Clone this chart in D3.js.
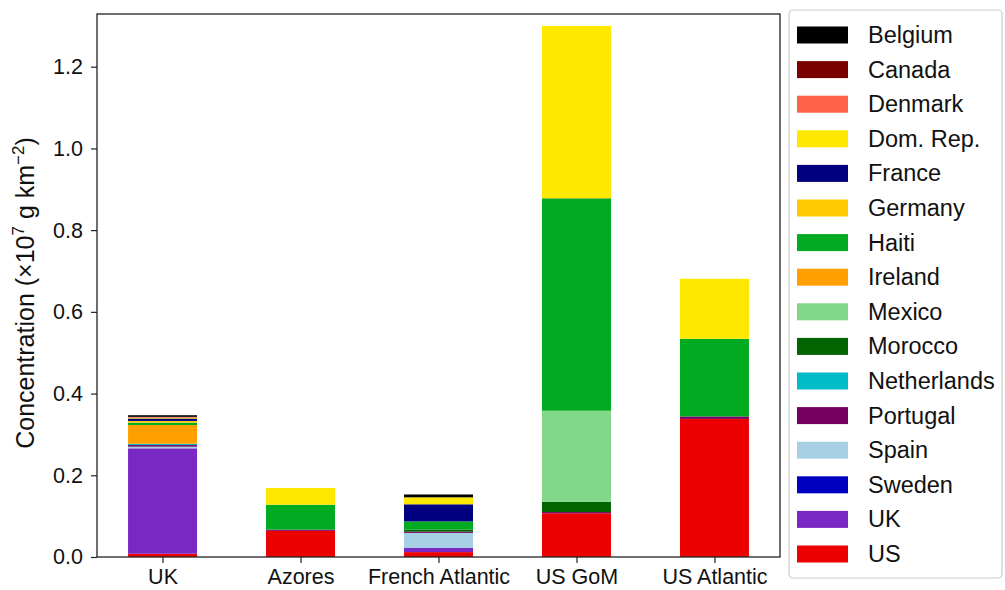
<!DOCTYPE html>
<html>
<head>
<meta charset="utf-8">
<script src="https://cdn.jsdelivr.net/npm/d3@7"></script>
<style>
  body { margin: 0; background: #fff; }
  svg { font-family: "Liberation Sans", Arial, sans-serif; }
</style>
</head>
<body>
<div id="chart"></div>
<script>
// sites on the x axis
var sites = ["UK", "Azores", "French Atlantic", "US GoM", "US Atlantic"];

// source countries, in legend order
var countries = ["Belgium", "Canada", "Denmark", "Dom. Rep.", "France", "Germany", "Haiti",
  "Ireland", "Mexico", "Morocco", "Netherlands", "Portugal", "Spain", "Sweden", "UK", "US"];

var colors = ["#000000", "#7a0000", "#ff6347", "#ffe800", "#000080", "#ffc800", "#00ab22",
  "#ffa000", "#80d888", "#006400", "#00bcc8", "#750060", "#a8d0e4", "#0000c0", "#7a28c4", "#ec0000"];

// values per country, one per site (x10^7 g km^-2)
var belgium     = [0.004, 0.000, 0.007, 0.000, 0.000];
var canada      = [0.000, 0.000, 0.000, 0.000, 0.000];
var denmark     = [0.002, 0.000, 0.000, 0.000, 0.000];
var domRep      = [0.002, 0.041, 0.017, 0.422, 0.147];
var france      = [0.006, 0.000, 0.042, 0.000, 0.000];
var germany     = [0.004, 0.000, 0.000, 0.000, 0.000];
var haiti       = [0.006, 0.061, 0.020, 0.520, 0.190];
var ireland     = [0.046, 0.000, 0.000, 0.000, 0.000];
var mexico      = [0.000, 0.000, 0.000, 0.223, 0.000];
var morocco     = [0.000, 0.000, 0.005, 0.025, 0.000];
var netherlands = [0.003, 0.000, 0.000, 0.000, 0.000];
var portugal    = [0.004, 0.003, 0.003, 0.003, 0.006];
var spain       = [0.004, 0.000, 0.037, 0.000, 0.000];
var sweden      = [0.000, 0.000, 0.000, 0.000, 0.000];
var uk          = [0.258, 0.000, 0.010, 0.000, 0.000];
var us          = [0.008, 0.064, 0.012, 0.107, 0.338];

var seriesValues = [belgium, canada, denmark, domRep, france, germany, haiti, ireland,
  mexico, morocco, netherlands, portugal, spain, sweden, uk, us];

var yTicks = [0.0, 0.2, 0.4, 0.6, 0.8, 1.0, 1.2];

var W = 1005, H = 590;
var m = {left: 97, right: 225, top: 14, bottom: 33};
var plotW = W - m.left - m.right, plotH = H - m.top - m.bottom;

var svg = d3.select("#chart").append("svg")
  .attr("width", W).attr("height", H);

// table: one row per site; stack from the last country (US) at the bottom
var table = sites.map(function (s, i) {
  var row = {site: s, idx: i};
  countries.forEach(function (c, k) { row[c] = seriesValues[k][i]; });
  return row;
});
var stackOrder = countries.slice().reverse();
var stacked = d3.stack().keys(stackOrder)(table);

var x = d3.scaleLinear().domain([-0.475, 4.475]).range([m.left, m.left + plotW]);
var y = d3.scaleLinear().domain([0, 1.329]).range([m.top + plotH, m.top]);
var barW = 0.5;

var color = d3.scaleOrdinal().domain(countries).range(colors);

// bars
svg.selectAll("g.layer")
  .data(stacked)
  .enter().append("g")
  .attr("class", "layer")
  .attr("fill", function (d) { return color(d.key); })
  .selectAll("rect")
  .data(function (d) { return d; })
  .enter().append("rect")
  .attr("x", function (d) { return x(d.data.idx - barW / 2); })
  .attr("width", function (d) { return x(barW) - x(0); })
  .attr("y", function (d) { return y(d[1]); })
  .attr("height", function (d) { return y(d[0]) - y(d[1]); });

// axes
var yAxis = d3.axisLeft(y).tickValues(yTicks).tickFormat(d3.format(".1f")).tickSize(6).tickPadding(8);
var gy = svg.append("g").attr("transform", "translate(" + m.left + ",0)").call(yAxis);
var xAxis = d3.axisBottom(x).tickValues(d3.range(sites.length))
  .tickFormat(function (i) { return sites[i]; }).tickSize(6).tickPadding(6);
var gx = svg.append("g").attr("transform", "translate(0," + (m.top + plotH) + ")").call(xAxis);

[gx, gy].forEach(function (g) {
  g.select(".domain").remove();
  g.selectAll("line").attr("stroke", "#222").attr("stroke-width", 1.2);
  g.selectAll("text").attr("fill", "#111");
});
gy.selectAll("text").attr("font-size", 21.5);
gx.selectAll("text").attr("font-size", 21.5);

// frame
svg.append("rect")
  .attr("x", m.left).attr("y", m.top).attr("width", plotW).attr("height", plotH)
  .attr("fill", "none").attr("stroke", "#222").attr("stroke-width", 1.3);

// y label
var yl = svg.append("text")
  .attr("transform", "translate(34,293) rotate(-90)")
  .attr("text-anchor", "middle").attr("font-size", 25).attr("fill", "#111");
yl.append("tspan").text("Concentration (\u00d710");
yl.append("tspan").attr("dy", -10).attr("font-size", 17).text("7");
yl.append("tspan").attr("dy", 10).text(" g km");
yl.append("tspan").attr("dy", -10).attr("font-size", 17).text("\u22122");
yl.append("tspan").attr("dy", 10).text(")");

// legend
var lg = svg.append("g").attr("transform", "translate(789,10)");
lg.append("rect")
  .attr("x", 0).attr("y", 0).attr("width", 213).attr("height", 568).attr("rx", 4)
  .attr("fill", "#fff").attr("stroke", "#ccc").attr("stroke-width", 1.2);
var item = lg.selectAll("g.item")
  .data(countries)
  .enter().append("g")
  .attr("class", "item")
  .attr("transform", function (d, i) { return "translate(0," + (25 + i * 34.6) + ")"; });
item.append("rect")
  .attr("x", 8).attr("y", -8.5).attr("width", 51).attr("height", 17)
  .attr("fill", function (d) { return color(d); });
item.append("text")
  .attr("x", 79).attr("y", 8)
  .attr("font-size", 23.5).attr("fill", "#111")
  .text(function (d) { return d; });
</script>
</body>
</html>
